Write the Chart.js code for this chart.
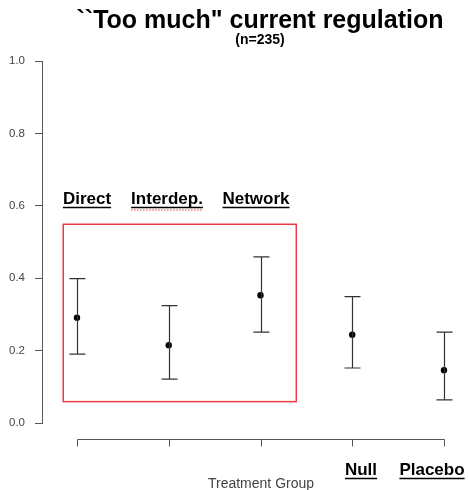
<!DOCTYPE html>
<html>
<head>
<meta charset="utf-8">
<style>
    html, body { margin: 0; padding: 0; background: #fff; }
    #wrap { width: 468px; height: 490px; }
</style>
<script src="https://cdn.jsdelivr.net/npm/chart.js@4"></script>
</head>
<body>
<div id="wrap"><canvas id="chart" width="468" height="490"></canvas></div>
<script>
// 数据
const groups = ['Direct', 'Interdep.', 'Network', 'Null', 'Placebo'];
const means = [0.291, 0.215, 0.353, 0.244, 0.146];
const lower = [0.190, 0.121, 0.251, 0.152, 0.064];
const upper = [0.399, 0.324, 0.459, 0.349, 0.251];
const yTicks = [0, 0.2, 0.4, 0.6, 0.8, 1.0];
const titleText = '``Too much" current regulation';
const subtitleText = '(n=235)';
const xAxisTitle = 'Treatment Group';
// 红框范围 (数据坐标)
const boxX = [-0.15, 2.39];
const boxY = [0.059, 0.549];

const FONT = '"Liberation Sans", Arial, sans-serif';

// 误差线 + 坐标轴 + 标注
const decorPlugin = {
    id: 'decor',
    afterDatasetsDraw(chart) {
        const ctx = chart.ctx;
        const x = chart.scales.x;
        const y = chart.scales.y;
        ctx.save();

        // 误差线
        ctx.strokeStyle = '#333';
        ctx.lineWidth = 1.2;
        groups.forEach((g, i) => {
            const px = Math.round(x.getPixelForValue(i)) + 0.5;
            const top = y.getPixelForValue(upper[i]);
            const bot = y.getPixelForValue(lower[i]);
            ctx.beginPath();
            ctx.moveTo(px, top); ctx.lineTo(px, bot);
            ctx.moveTo(px - 8, top); ctx.lineTo(px + 8, top);
            ctx.moveTo(px - 8, bot); ctx.lineTo(px + 8, bot);
            ctx.stroke();
        });

        // 红框
        ctx.strokeStyle = '#ee3a43';
        ctx.lineWidth = 1.5;
        const bx0 = x.getPixelForValue(boxX[0]), bx1 = x.getPixelForValue(boxX[1]);
        const by0 = y.getPixelForValue(boxY[1]), by1 = y.getPixelForValue(boxY[0]);
        ctx.strokeRect(bx0, by0, bx1 - bx0, by1 - by0);

        // x 轴 (与绘图区分离, R 风格)
        const axisY = 439.5;
        ctx.strokeStyle = '#555';
        ctx.lineWidth = 1;
        ctx.beginPath();
        ctx.moveTo(Math.round(x.getPixelForValue(0)) + 0.5, axisY);
        ctx.lineTo(Math.round(x.getPixelForValue(groups.length - 1)) + 0.5, axisY);
        groups.forEach((g, i) => {
            const px = Math.round(x.getPixelForValue(i)) + 0.5;
            ctx.moveTo(px, axisY); ctx.lineTo(px, axisY + 7);
        });
        ctx.stroke();

        // x 轴标题
        ctx.fillStyle = '#444';
        ctx.font = '14px ' + FONT;
        ctx.textAlign = 'center';
        ctx.textBaseline = 'alphabetic';
        ctx.fillText(xAxisTitle, 261, 488);

        // 分组标签 (加粗 + 下划线)
        const labelPos = [[87, 204], [167, 204], [256, 204], [361, 475], [432, 475]];
        ctx.font = 'bold 17px ' + FONT;
        ctx.fillStyle = '#000';
        groups.forEach((g, i) => {
            const [cx, by] = labelPos[i];
            ctx.fillText(g, cx, by);
            const w = ctx.measureText(g).width;
            ctx.strokeStyle = '#000';
            ctx.lineWidth = 1.5;
            ctx.beginPath();
            ctx.moveTo(cx - w / 2, by + 3.5);
            ctx.lineTo(cx + w / 2, by + 3.5);
            ctx.stroke();
            if (g === 'Interdep.') {
                ctx.strokeStyle = '#e04040';
                ctx.lineWidth = 1;
                ctx.setLineDash([1.5, 1.5]);
                ctx.beginPath();
                ctx.moveTo(cx - w / 2, by + 6);
                ctx.lineTo(cx + w / 2, by + 6);
                ctx.stroke();
                ctx.setLineDash([]);
            }
        });

        // 标题
        ctx.fillStyle = '#000';
        ctx.font = 'bold 25px ' + FONT;
        ctx.fillText(titleText, 260, 28);
        ctx.font = 'bold 14px ' + FONT;
        ctx.fillText(subtitleText, 260, 44);

        ctx.restore();
    }
};

document.addEventListener('DOMContentLoaded', function() {
    const ctx = document.getElementById('chart').getContext('2d');
    new Chart(ctx, {
        type: 'scatter',
        data: {
            datasets: [{
                data: means.map((m, i) => ({ x: i, y: m })),
                pointRadius: 3.2,
                pointBackgroundColor: '#000',
                pointBorderColor: '#000',
                pointBorderWidth: 0
            }]
        },
        options: {
            responsive: false,
            animation: false,
            layout: { padding: { left: 0, top: 61, right: 8, bottom: 67 } },
            plugins: {
                legend: { display: false },
                tooltip: { enabled: false },
                title: { display: false }
            },
            scales: {
                x: {
                    type: 'linear',
                    display: false,
                    min: -0.3815,
                    max: 4.1744
                },
                y: {
                    min: 0,
                    max: 1,
                    afterFit(scale) { scale.width = 42; },
                    afterBuildTicks(scale) {
                        scale.ticks = yTicks.map(v => ({ value: v }));
                    },
                    ticks: {
                        padding: 10,
                        color: '#444',
                        font: { size: 11.5, family: FONT },
                        callback: v => v.toFixed(1)
                    },
                    grid: {
                        drawOnChartArea: false,
                        tickLength: 7,
                        color: '#555'
                    },
                    border: { display: true, color: '#555', width: 1 }
                }
            }
        },
        plugins: [decorPlugin]
    });
});
</script>
</body>
</html>
